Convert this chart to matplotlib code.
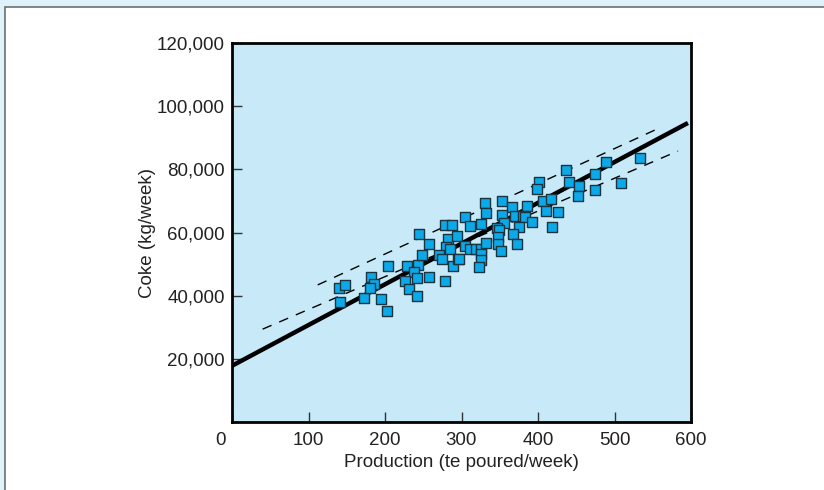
import numpy as np
import matplotlib.pyplot as plt
from matplotlib.patches import Rectangle
from matplotlib.ticker import FuncFormatter
import matplotlib.transforms as mtransforms

plt.rcParams['font.family'] = ['Liberation Sans', 'DejaVu Sans']

# weekly production (te poured) and coke use (kg)
production = [140, 148, 141, 172, 182, 185, 180, 195, 202, 204,
              229, 243, 238, 242, 257, 226, 232, 242, 245, 257,
              248, 278, 288, 283, 294, 280, 285, 271, 275, 289,
              296, 279, 304, 331, 353, 332, 366, 385, 353, 355,
              370, 381, 383, 392, 375, 367, 346, 349, 348, 348,
              352, 372, 311, 326, 304, 311, 319, 325, 325, 325,
              323, 332, 297, 437, 401, 399, 440, 453, 452, 407,
              417, 411, 426, 418, 474, 474, 489, 508, 533]
coke = [42400, 43400, 38000, 39200, 46000, 43700, 42300, 38800, 35300, 49300,
        49500, 49800, 47600, 45500, 46000, 44600, 42000, 40000, 59500, 56400,
        52800, 62300, 62300, 58000, 58900, 55500, 54800, 53000, 51500, 49400,
        51500, 44600, 65000, 69400, 70000, 66100, 68200, 68300, 65400, 62900,
        65200, 65200, 64800, 63300, 61700, 59600, 61300, 60800, 58500, 56300,
        54100, 56300, 62100, 62600, 55600, 54800, 54800, 54900, 53300, 51300,
        49100, 56600, 51500, 79900, 75900, 73900, 75900, 74700, 71600, 70000,
        70500, 66900, 66400, 61700, 78400, 73500, 82400, 75600, 83500]

# fitted line
fit_intercept = 17800
fit_slope = 129
fit_x = [0, 596]

# dashed limit lines (end points)
upper_x = [112, 556]
upper_y = [43400, 92800]
lower_x = [40, 583]
lower_y = [29400, 85800]

x_ticks = [0, 100, 200, 300, 400, 500, 600]
y_ticks = [20000, 40000, 60000, 80000, 100000, 120000]

fig = plt.figure(figsize=(8.24, 4.9), dpi=100)

# page frame behind the chart
fig.patches.append(Rectangle((0, 0), 1, 1, transform=fig.transFigure,
                             facecolor='#dff2fa', edgecolor='none', zorder=-3))
fig.patches.append(Rectangle((4.5 / 824, -0.1), 1.2, (483 + 49) / 490,
                             transform=fig.transFigure, facecolor='white',
                             edgecolor='#6d6f71', linewidth=1.2, zorder=-2))

ax = fig.add_axes([232 / 824, 68 / 490, 459 / 824, 379 / 490])
ax.set_facecolor('#c8e9f8')

xs = np.array(fit_x)
ax.plot(xs, fit_intercept + fit_slope * xs, color='black', lw=3.2,
        solid_capstyle='butt', zorder=3)
ax.plot(upper_x, upper_y, color='black', lw=1.0, dashes=(7, 6), zorder=2)
ax.plot(lower_x, lower_y, color='black', lw=1.0, dashes=(7, 6), zorder=2)

ax.scatter(production, coke, marker='s', s=44, facecolor='#0ca9e8',
           edgecolor='#1c3440', linewidth=1.0, zorder=4)

ax.set_xlim(0, 600)
ax.set_ylim(0, 120000)
ax.set_xticks(x_ticks)
ax.set_yticks(y_ticks)
ax.yaxis.set_major_formatter(FuncFormatter(lambda v, p: f'{int(v):,}'))
ax.tick_params(direction='in', length=7, width=1.0, labelsize=13.5,
               color='#333333', labelcolor='#222222')
ax.tick_params(axis='x', pad=7)
ax.tick_params(axis='y', pad=5)

# the zero label sits a little left of the corner
fig.canvas.draw()
shift = mtransforms.ScaledTranslation(-11 / 100, 0, fig.dpi_scale_trans)
lab0 = ax.get_xticklabels()[0]
lab0.set_transform(lab0.get_transform() + shift)

for sp in ax.spines.values():
    sp.set_linewidth(2.0)

ax.set_xlabel('Production (te poured/week)', fontsize=13.5, labelpad=4,
              color='#222222')
ax.set_ylabel('Coke (kg/week)', fontsize=13.5, labelpad=1, color='#222222')

fig.savefig('out.png', dpi=100)
